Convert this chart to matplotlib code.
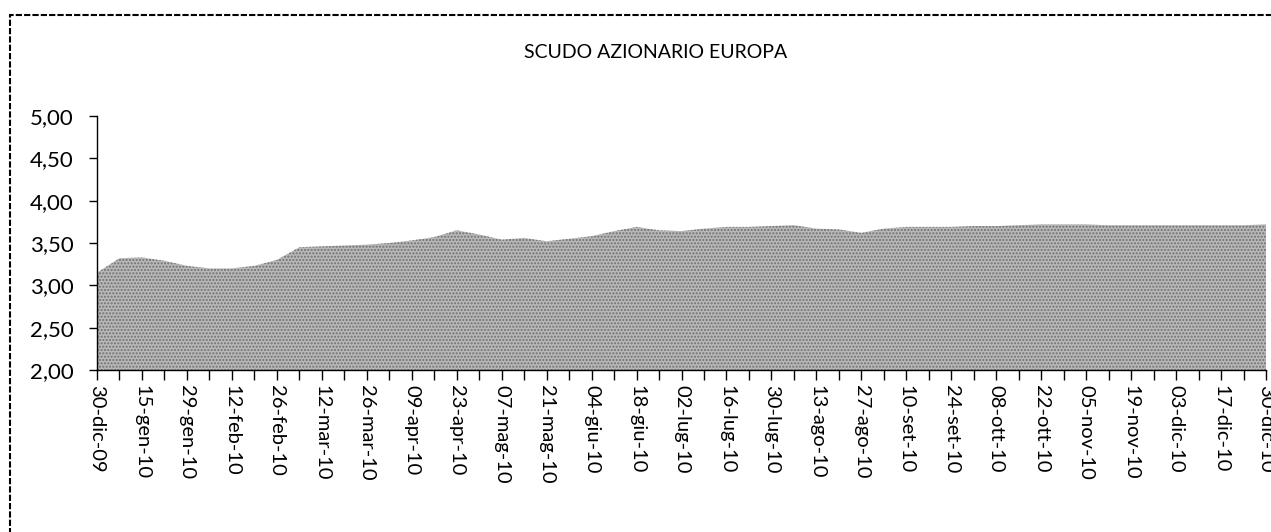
import matplotlib
matplotlib.use("Agg")
import matplotlib.pyplot as plt
import matplotlib.patches as patches
import numpy as np

plt.rcParams['font.family'] = ['Lato', 'DejaVu Sans']

title = "SCUDO AZIONARIO EUROPA"

# weekly values (53 categories, 30-dic-09 .. 30-dic-10)
values = [3.15, 3.32, 3.33, 3.29, 3.23, 3.20, 3.20, 3.23, 3.30, 3.45,
          3.46, 3.47, 3.48, 3.50, 3.53, 3.57, 3.65, 3.60, 3.54, 3.56,
          3.52, 3.55, 3.58, 3.64, 3.69, 3.65, 3.64, 3.67, 3.69, 3.69,
          3.70, 3.71, 3.67, 3.66, 3.62, 3.67, 3.69, 3.69, 3.69, 3.70,
          3.70, 3.71, 3.72, 3.72, 3.72, 3.71, 3.71, 3.71, 3.71, 3.71,
          3.71, 3.71, 3.72]

tick_labels = ["30-dic-09", "15-gen-10", "29-gen-10", "12-feb-10", "26-feb-10",
               "12-mar-10", "26-mar-10", "09-apr-10", "23-apr-10", "07-mag-10",
               "21-mag-10", "04-giu-10", "18-giu-10", "02-lug-10", "16-lug-10",
               "30-lug-10", "13-ago-10", "27-ago-10", "10-set-10", "24-set-10",
               "08-ott-10", "22-ott-10", "05-nov-10", "19-nov-10", "03-dic-10",
               "17-dic-10", "30-dic-10"]

y_ticks = [2.0, 2.5, 3.0, 3.5, 4.0, 4.5, 5.0]

W, H = 1271, 532
fig = plt.figure(figsize=(W / 100, H / 100), dpi=100)

left, right, top, bottom = 97, 1266, 116, 370
ax = fig.add_axes([left / W, 1 - bottom / H, (right - left) / W, (bottom - top) / H])

x = np.arange(len(values))
ax.fill_between(x, values, 0, facecolor='#b8b8b8', edgecolor='#707070',
                hatch='.....', linewidth=0)

ax.set_xlim(0, len(values) - 1)
ax.set_ylim(2.0, 5.0)

ax.set_xticks(x, minor=True)
ax.set_xticks(x[::2])
ax.set_xticklabels(tick_labels, rotation=270, fontsize=14.5)
ax.tick_params(axis='x', which='both', direction='out', length=7, width=1, color='black', pad=4)

ax.set_yticks(y_ticks)
ax.set_yticklabels([f"{v:.2f}".replace('.', ',') for v in y_ticks], fontsize=16)
ax.tick_params(axis='y', direction='out', length=6, width=1, pad=11)

for s in ['top', 'right']:
    ax.spines[s].set_visible(False)
for s in ['left', 'bottom']:
    ax.spines[s].set_linewidth(1)
    ax.spines[s].set_color('black')

fig.text(656 / W, 1 - 53 / H, title, ha='center', va='center', fontsize=14)

border = patches.Rectangle((10 / W, -0.05), 1.2, 1 - 15 / H + 0.05,
                           transform=fig.transFigure, fill=False,
                           edgecolor='black', linewidth=1.5, linestyle=(0, (3, 1)))
fig.patches.append(border)

fig.savefig("out.png", dpi=100, facecolor='white')
